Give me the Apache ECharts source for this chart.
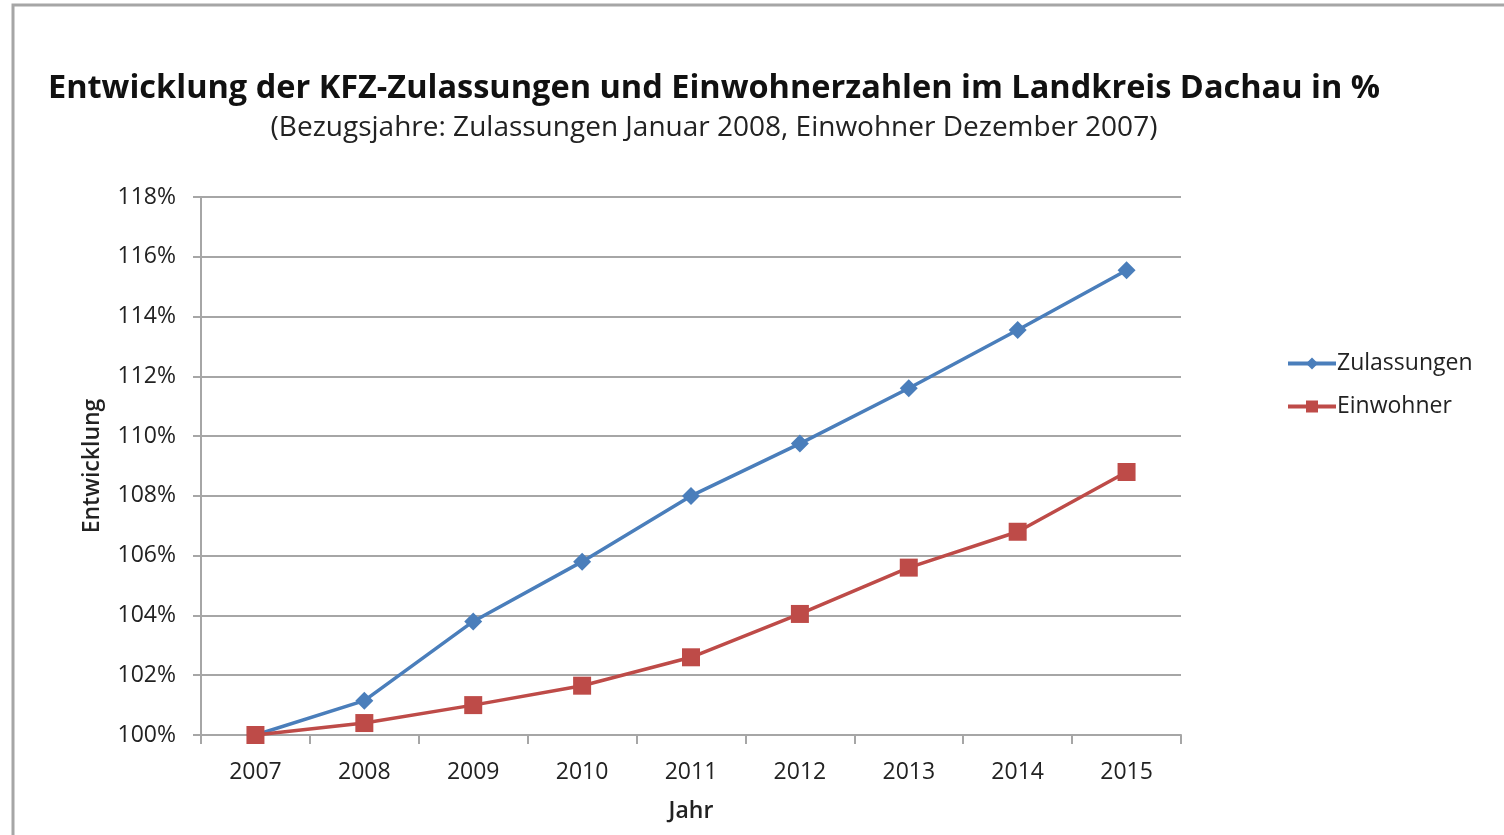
<!DOCTYPE html>
<html><head><meta charset="utf-8">
<script src="https://cdn.jsdelivr.net/npm/echarts@6/dist/echarts.min.js"></script>
<style>html,body{margin:0;padding:0;background:#fff;}#c{width:1504px;height:835px;}</style>
</head><body><div id="c"></div>
<script>
var years = ['2007','2008','2009','2010','2011','2012','2013','2014','2015'];
var zulassungen = [100, 101.15, 103.8, 105.8, 108.0, 109.75, 111.6, 113.55, 115.55];
var einwohner = [100, 100.4, 101.0, 101.65, 102.6, 104.05, 105.6, 106.8, 108.8];
var FONT = 'Open Sans';
var chart = echarts.init(document.getElementById('c'));
chart.setOption({
  animation: false,
  textStyle: {fontFamily: FONT},
  graphic: [{type:'rect', shape:{x:13, y:5, width:1600, height:1000}, style:{fill:'none', stroke:'#a6a6a6', lineWidth:3}, silent:true}],
  title: {
    text: 'Entwicklung der KFZ-Zulassungen und Einwohnerzahlen im Landkreis Dachau in %',
    subtext: '(Bezugsjahre: Zulassungen Januar 2008, Einwohner Dezember 2007)',
    left: 709, textAlign: 'center', top: 67, itemGap: 9,
    textStyle: {fontFamily: FONT, fontSize: 32.5, fontWeight: 'bold', color: '#111'},
    subtextStyle: {fontFamily: FONT, fontSize: 28, color: '#222'}
  },
  legend: {
    orient: 'vertical', left: 1281, top: 347, itemGap: 20, itemWidth: 48, itemHeight: 15,
    textStyle: {fontFamily: FONT, fontSize: 23, color: '#222', padding:[0,0,0,-4]},
    data: [
      {name: 'Zulassungen', itemStyle: {color: '#4a7ebb'}, lineStyle: {width: 4}},
      {name: 'Einwohner', itemStyle: {color: '#be4b48'}, lineStyle: {width: 4}}
    ]
  },
  grid: {left: 201, right: 323, top: 197, bottom: 100, containLabel: false},
  xAxis: {
    type: 'category', data: years, boundaryGap: true,
    name: 'Jahr', nameLocation: 'middle', nameGap: 65,
    nameTextStyle: {fontFamily: FONT, fontSize: 23, fontWeight: 600, color: '#222'},
    axisLine: {lineStyle: {color: '#a6a6a6', width: 2}},
    axisTick: {show: true, length: 9, lineStyle: {color: '#a6a6a6', width: 2}, alignWithLabel: false},
    axisLabel: {fontFamily: FONT, fontSize: 23, color: '#222', margin: 26}
  },
  yAxis: {
    type: 'value', min: 100, max: 118, interval: 2,
    name: 'Entwicklung', nameLocation: 'middle', nameGap: 97, nameRotate: 90,
    nameTextStyle: {fontFamily: FONT, fontSize: 23, fontWeight: 600, color: '#222'},
    axisLine: {show: true, lineStyle: {color: '#a6a6a6', width: 2}},
    axisTick: {show: true, length: 8, lineStyle: {color: '#a6a6a6', width: 2}},
    splitLine: {show: true, lineStyle: {color: '#a6a6a6', width: 2}},
    axisLabel: {fontFamily: FONT, fontSize: 23, color: '#222', margin: 25, formatter: function(v){return v + '%';}}
  },
  series: [
    {name: 'Zulassungen', type: 'line', data: zulassungen, symbol: 'diamond', symbolSize: 18,
     lineStyle: {color: '#4a7ebb', width: 3.5}, itemStyle: {color: '#4a7ebb'}, z: 2},
    {name: 'Einwohner', type: 'line', data: einwohner, symbol: 'rect', symbolSize: 18,
     lineStyle: {color: '#be4b48', width: 3.5}, itemStyle: {color: '#be4b48'}, z: 3}
  ]
});
</script></body></html>
